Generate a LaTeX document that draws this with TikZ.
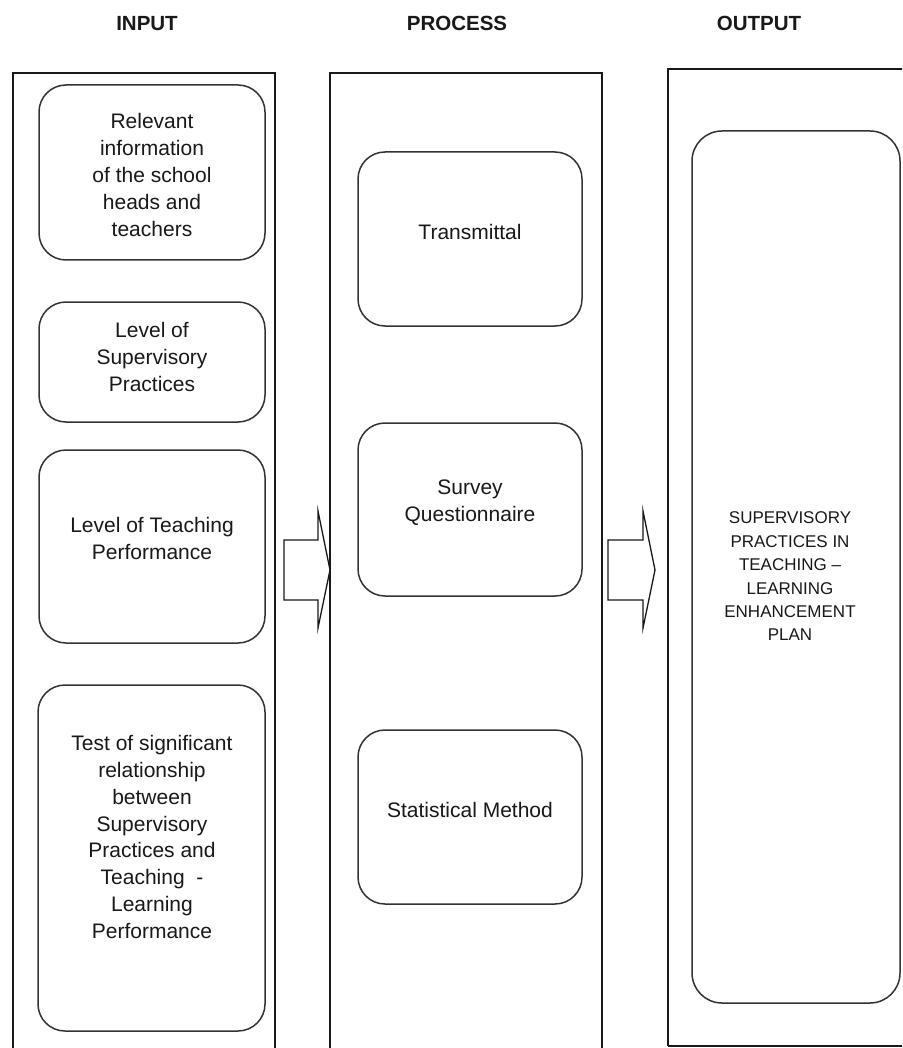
\documentclass[tikz,border=0pt]{standalone}
\usepackage{fontspec}
\setmainfont{Liberation Sans}
\begin{document}
\begin{tikzpicture}[x=1pt,y=-1pt,
  frame/.style={draw=black!90, line width=1.4pt},
  rbox/.style={draw=black!80, line width=1.5pt, rounded corners=27pt, rectangle, inner sep=0pt},
  txt/.style={align=center, inner sep=0pt, text=black!90, font=\fontsize{21}{26.8}\selectfont},
  otxt/.style={align=center, inner sep=0pt, text=black!90, font=\fontsize{17}{23.4}\selectfont},
  head/.style={inner sep=0pt, text=black!90, font=\fontsize{20.5}{24}\selectfont\bfseries},
  barrow/.style={draw=black!90, line width=1.3pt, fill=white, line join=miter}]
\useasboundingbox (0,0) rectangle (902,1048);
\clip (0,0) rectangle (902,1048);
\fill[white] (0,0) rectangle (902,1048);
% headers
\node[head] (hin) at (147,23.5) {INPUT};
\node[head] (hpr) at (457,23.5) {PROCESS};
\node[head] (hout) at (759,23.5) {OUTPUT};
% frames
\draw[frame] (13,1060) -- (13,73) -- (275,73) -- (275,1060);
\draw[frame] (330,1060) -- (330,73) -- (602,73) -- (602,1060);
\draw[frame, line width=1.6pt] (668,1046) -- (668,69) -- (910,69);
\draw[frame, line width=2pt] (668,1046) -- (910,1046);
% input boxes
\node[rbox, minimum width=226pt, minimum height=175pt] (in1) at (152,172.5) {};
\node[txt] (in1t) at (152,175) {Relevant\\information\\of the school\\heads and\\teachers};
\node[rbox, minimum width=226pt, minimum height=120pt] (in2) at (152,362) {};
\node[txt] (in2t) at (152,357) {Level of\\Supervisory\\Practices};
\node[rbox, minimum width=226pt, minimum height=193pt] (in3) at (152,546.5) {};
\node[txt] (in3t) at (152,538.5) {Level of Teaching\\Performance};
\node[rbox, minimum width=227pt, minimum height=346pt] (in4) at (151.5,858) {};
\node[txt] (in4t) at (152,837) {Test of significant\\relationship\\between\\Supervisory\\Practices and\\Teaching\ \ -\\Learning\\Performance};
% process boxes
\node[rbox, minimum width=224pt, minimum height=174pt] (p1) at (470,239) {};
\node[txt] (p1t) at (470,232) {Transmittal};
\node[rbox, minimum width=224pt, minimum height=173pt] (p2) at (470,509.5) {};
\node[txt] (p2t) at (470,502.5) {Survey\\Questionnaire};
\node[rbox, minimum width=224pt, minimum height=174pt] (p3) at (470,817) {};
\node[txt] (p3t) at (470,810) {Statistical Method};
% output box
\node[rbox, rounded corners=30pt, minimum width=208pt, minimum height=872pt] (o1) at (796,567) {};
\node[otxt] (o1t) at (790,576.5) {SUPERVISORY\\PRACTICES IN\\TEACHING –\\LEARNING\\ENHANCEMENT\\PLAN};
% block arrows
\coordinate (a1) at (284,540);
\coordinate (a2) at (608,540);
\draw[barrow] (a1) -- ++(34,0) -- ++(0,-29) -- ++(12,59) -- ++(-12,58) -- ++(0,-28) -- ++(-34,0) -- cycle;
\draw[barrow] (a2) -- ++(35,0) -- ++(0,-29) -- ++(12,59) -- ++(-12,58) -- ++(0,-28) -- ++(-35,0) -- cycle;
\end{tikzpicture}
\end{document}
